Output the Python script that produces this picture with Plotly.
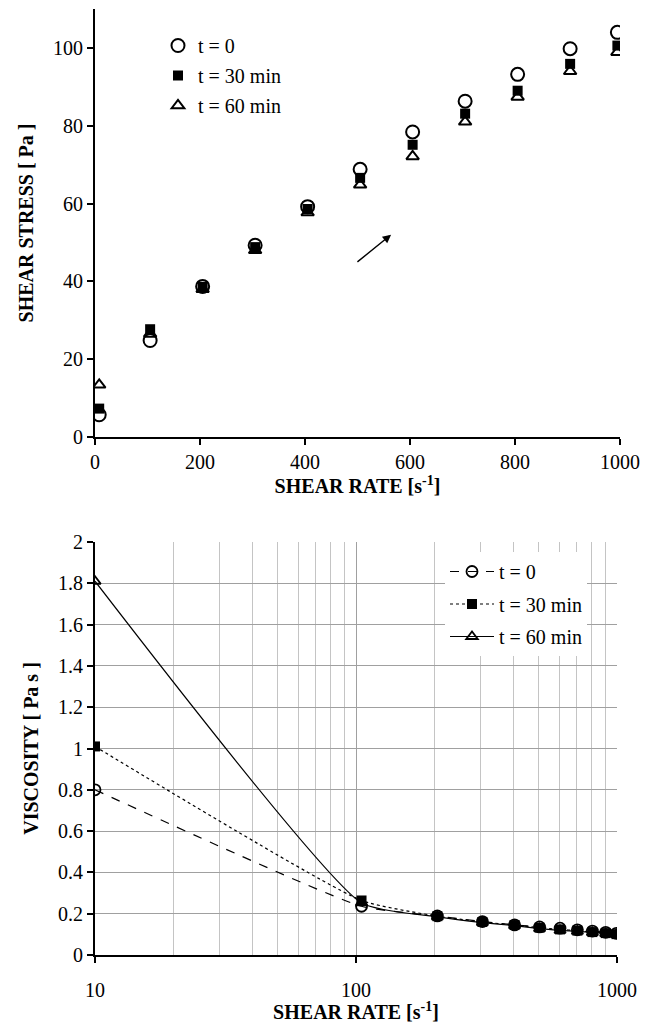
import plotly.graph_objects as go

# ---------------- data ----------------
shear_rate = [8, 105, 205, 305, 405, 505, 605, 705, 805, 905, 995]
stress_t0 = [5.7, 24.8, 38.7, 49.3, 59.2, 68.8, 78.4, 86.3, 93.2, 99.8, 104.0]
stress_t30 = [7.3, 27.7, 38.6, 48.8, 58.6, 66.6, 75.1, 83.1, 89.0, 95.9, 100.6]
stress_t60 = [13.4, 26.5, 38.0, 48.0, 57.7, 64.8, 72.1, 81.0, 87.4, 94.0, 98.9]

visc_rate = [10, 105, 205, 305, 405, 505, 605, 705, 805, 905, 995]
visc_t0 = [0.80, 0.236, 0.189, 0.162, 0.146, 0.136, 0.130, 0.122, 0.116, 0.110, 0.105]
visc_t30 = [1.01, 0.264, 0.188, 0.160, 0.145, 0.132, 0.124, 0.118, 0.111, 0.106, 0.101]
visc_t60 = [1.81, 0.252, 0.185, 0.157, 0.142, 0.128, 0.119, 0.115, 0.109, 0.104, 0.099]

series_names = ["t = 0", "t = 30 min", "t = 60 min"]
stress_ticks = [0, 20, 40, 60, 80, 100]
rate_ticks = [0, 200, 400, 600, 800, 1000]
visc_ticks = [0, 0.2, 0.4, 0.6, 0.8, 1, 1.2, 1.4, 1.6, 1.8, 2]
log_ticks = [10, 100, 1000]
log_minor = [20, 30, 40, 50, 60, 70, 80, 90, 200, 300, 400, 500, 600, 700, 800, 900]

FONT = "Liberation Serif, Times New Roman, serif"
W, H = 654, 1023

fig = go.Figure()

# ---------- top chart ----------
mk = [
    dict(symbol="circle-open", size=13, color="black", line=dict(width=2, color="black")),
    dict(symbol="square", size=10, color="black", line=dict(width=0)),
    dict(symbol="triangle-up-open", size=11, color="black", line=dict(width=2, color="black")),
]
for i, (name, ys, m) in enumerate(zip(series_names, [stress_t0, stress_t30, stress_t60], mk)):
    fig.add_trace(go.Scatter(x=shear_rate, y=ys, mode="markers", name=name, marker=m,
                             legendgroup="a%d" % i,
                             xaxis="x", yaxis="y", legend="legend"))

# ---------- bottom chart ----------
dashes = ["dash", "dot", "solid"]
mk2 = [
    dict(symbol="circle-open", size=11, color="black", line=dict(width=1.8, color="black")),
    dict(symbol="square", size=10, color="black", line=dict(width=0)),
    dict(symbol="triangle-up-open", size=10, color="black", line=dict(width=1.8, color="black")),
]
for i, (name, ys, d, m) in enumerate(zip(series_names, [visc_t0, visc_t30, visc_t60], dashes, mk2)):
    fig.add_trace(go.Scatter(x=visc_rate, y=ys, mode="lines+markers", name=name, marker=m,
                             legendgroup="b%d" % i,
                             line=dict(color="black", width=1.2, dash=d, shape="spline", smoothing=0.5),
                             xaxis="x2", yaxis="y2", legend="legend2"))

def px_x(p):
    return p / W

def px_y(p):
    return 1 - p / H

tickfont = dict(family=FONT, size=20, color="black")
titlefont = dict(family=FONT, size=20, color="black")

fig.update_layout(
    template="none",
    width=W, height=H,
    margin=dict(l=0, r=0, t=0, b=0, pad=0),
    paper_bgcolor="white", plot_bgcolor="white",
    font=dict(family=FONT, color="black"),
    xaxis=dict(domain=[px_x(95), px_x(620)], range=[0, 1000], tickvals=rate_ticks,
               ticks="outside", ticklen=6, tickwidth=1.5, tickcolor="black",
               showline=True, linecolor="black", linewidth=2, showgrid=False, zeroline=False,
               tickfont=tickfont, anchor="y", automargin=False,
               title=dict(text="<b>SHEAR RATE [s<sup>-1</sup>]</b>", font=titlefont, standoff=2)),
    yaxis=dict(domain=[px_y(437), px_y(9)], range=[0, 110], tickvals=stress_ticks,
               ticks="outside", ticklen=6, tickwidth=1.5, tickcolor="black",
               showline=True, linecolor="black", linewidth=2, showgrid=False, zeroline=False,
               tickfont=tickfont, anchor="x", automargin=False,
               title=dict(text="<b>SHEAR STRESS [ Pa ]</b>", font=titlefont, standoff=14)),
    xaxis2=dict(domain=[px_x(95), px_x(617)], type="log", range=[1, 3], tickvals=log_ticks,
                ticktext=[str(v) for v in log_ticks],
                ticks="outside", ticklen=6, tickwidth=1.5, tickcolor="black",
                showline=True, linecolor="black", linewidth=2, zeroline=False,
                showgrid=True, gridcolor="#a0a0a0", gridwidth=1,
                minor=dict(tickvals=log_minor, showgrid=True, gridcolor="#c4c4c4", gridwidth=1, ticks=""),
                tickfont=tickfont, anchor="y2", ticklabelstandoff=10, automargin=False,
                title=dict(text="<b>SHEAR RATE [s<sup>-1</sup>]</b>", font=titlefont, standoff=4)),
    yaxis2=dict(domain=[px_y(955), px_y(542)], range=[0, 2], tickvals=visc_ticks,
                ticks="outside", ticklen=6, tickwidth=1.5, tickcolor="black",
                showline=True, linecolor="black", linewidth=2, zeroline=False,
                showgrid=True, gridcolor="#a0a0a0", gridwidth=1,
                tickfont=tickfont, anchor="x2", automargin=False,
                title=dict(text="<b>VISCOSITY [ Pa s ]</b>", font=titlefont, standoff=14)),
    legend=dict(x=px_x(158), y=px_y(26), xanchor="left", yanchor="top",
                bgcolor="rgba(0,0,0,0)", font=dict(family=FONT, size=20, color="black"),
                tracegroupgap=1),
    legend2=dict(x=px_x(445), y=px_y(552), xanchor="left", yanchor="top",
                 bgcolor="white", font=dict(family=FONT, size=20, color="black"),
                 tracegroupgap=3.5, itemwidth=44),
    showlegend=True,
)

fig.add_annotation(x=564, y=52, ax=497, ay=44.7, xref="x", yref="y", axref="x", ayref="y",
                   showarrow=True, arrowhead=2, arrowsize=1.2, arrowwidth=1.4, arrowcolor="black", text="")

fig.write_html("out.html", config={"displayModeBar": False},
               post_script="document.body.style.margin='0px';document.body.style.overflow='hidden';"
                           "document.documentElement.style.overflow='hidden';")
